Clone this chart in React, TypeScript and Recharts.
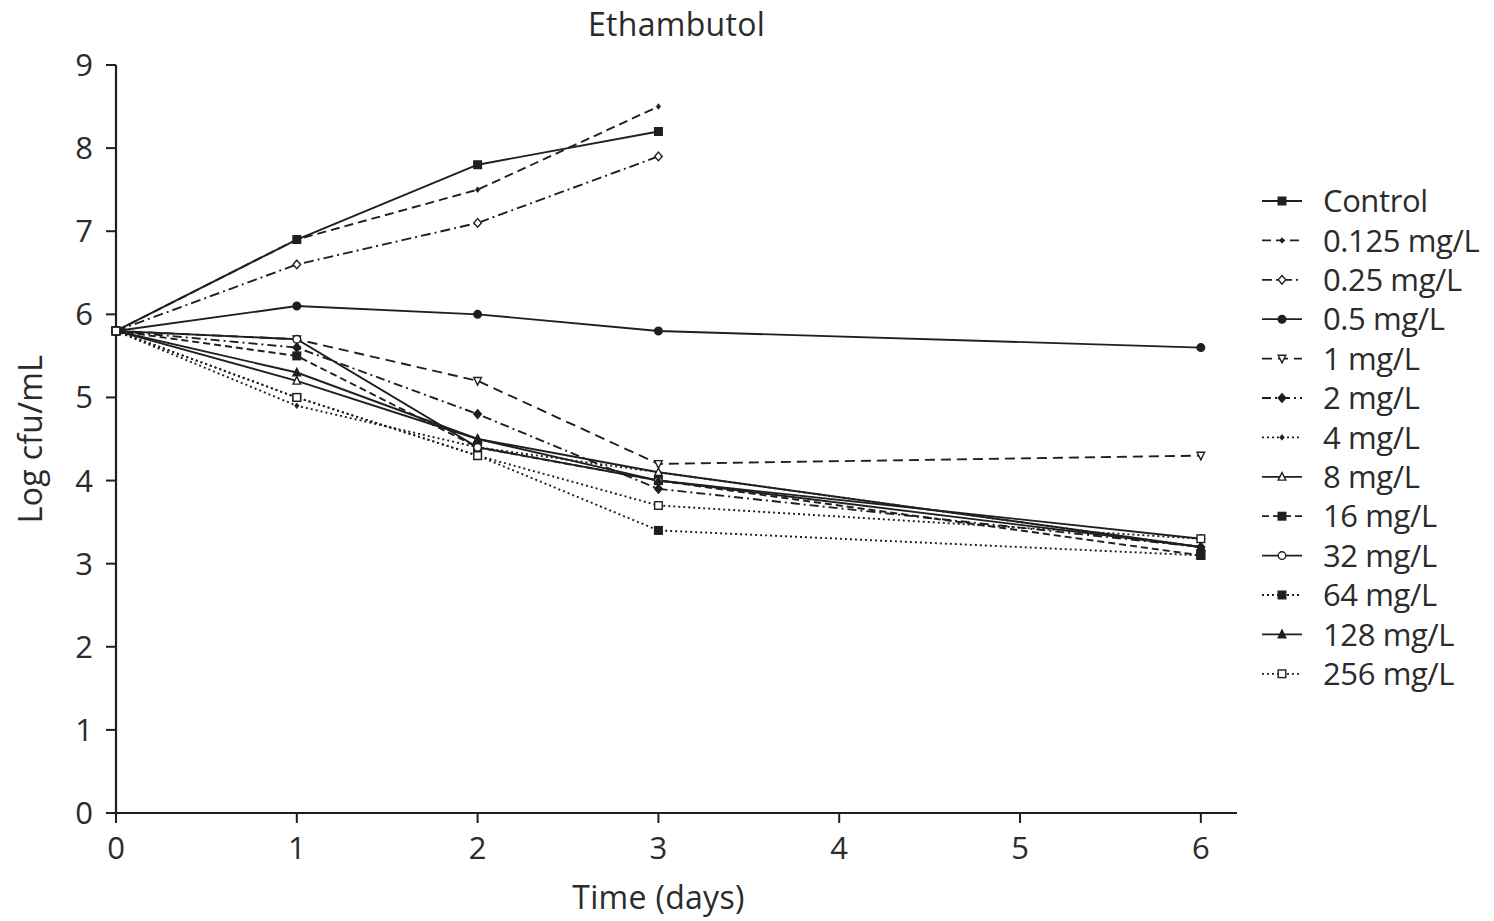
import { Label, Line, LineChart, XAxis, YAxis } from "recharts";

const DAYS = [0, 1, 2, 3, 6];
const X_TICKS = [0, 1, 2, 3, 4, 5, 6];
const Y_TICKS = [0, 1, 2, 3, 4, 5, 6, 7, 8, 9];

// log cfu/mL per concentration, one value per entry in DAYS
const control = [5.8, 6.9, 7.8, 8.2, null];
const mg0125 = [5.8, 6.9, 7.5, 8.5, null];
const mg025 = [5.8, 6.6, 7.1, 7.9, null];
const mg05 = [5.8, 6.1, 6.0, 5.8, 5.6];
const mg1 = [5.8, 5.7, 5.2, 4.2, 4.3];
const mg2 = [5.8, 5.6, 4.8, 3.9, 3.2];
const mg4 = [5.8, 4.9, 4.4, 4.1, 3.2];
const mg8 = [5.8, 5.2, 4.5, 4.1, 3.2];
const mg16 = [5.8, 5.5, 4.4, 4.0, 3.1];
const mg32 = [5.8, 5.7, 4.4, 4.0, 3.3];
const mg64 = [5.8, 5.0, 4.3, 3.4, 3.1];
const mg128 = [5.8, 5.3, 4.5, 4.0, 3.2];
const mg256 = [5.8, 5.0, 4.3, 3.7, 3.3];

const SERIES = [
  { key: "control", name: "Control", values: control },
  { key: "mg0125", name: "0.125 mg/L", values: mg0125 },
  { key: "mg025", name: "0.25 mg/L", values: mg025 },
  { key: "mg05", name: "0.5 mg/L", values: mg05 },
  { key: "mg1", name: "1 mg/L", values: mg1 },
  { key: "mg2", name: "2 mg/L", values: mg2 },
  { key: "mg4", name: "4 mg/L", values: mg4 },
  { key: "mg8", name: "8 mg/L", values: mg8 },
  { key: "mg16", name: "16 mg/L", values: mg16 },
  { key: "mg32", name: "32 mg/L", values: mg32 },
  { key: "mg64", name: "64 mg/L", values: mg64 },
  { key: "mg128", name: "128 mg/L", values: mg128 },
  { key: "mg256", name: "256 mg/L", values: mg256 },
];

type Shape = "square" | "circle" | "diamond" | "triangle" | "triangleDown" | "tiny";
type Style = { dash?: string; shape: Shape; filled: boolean };

const STYLES: Record<string, Style> = {
  control: { shape: "square", filled: true },
  mg0125: { dash: "9 5", shape: "tiny", filled: true },
  mg025: { dash: "10 4 2 4", shape: "diamond", filled: false },
  mg05: { shape: "circle", filled: true },
  mg1: { dash: "10 6", shape: "triangleDown", filled: false },
  mg2: { dash: "9 4 2 4", shape: "diamond", filled: true },
  mg4: { dash: "2 3", shape: "tiny", filled: true },
  mg8: { shape: "triangle", filled: false },
  mg16: { dash: "7 4", shape: "square", filled: true },
  mg32: { shape: "circle", filled: false },
  mg64: { dash: "2 3", shape: "square", filled: true },
  mg128: { shape: "triangle", filled: true },
  mg256: { dash: "2 3", shape: "square", filled: false },
};

const INK = "#1f1f1f";
const TEXT = "#2b2b2b";
const FONT = "'Open Sans', sans-serif";

const data = DAYS.map((day, i) => {
  const row: Record<string, number | null> = { day };
  SERIES.forEach((s) => (row[s.key] = s.values[i]));
  return row;
});

function Marker({ cx, cy, shape, filled }: { cx: number; cy: number; shape: Shape; filled: boolean }) {
  const fill = filled ? INK : "#fff";
  const common = { fill, stroke: INK, strokeWidth: 1.4 };
  const r = 3.8;
  switch (shape) {
    case "square":
      return <rect x={cx - r} y={cy - r} width={r * 2} height={r * 2} {...common} />;
    case "circle":
      return <circle cx={cx} cy={cy} r={r} {...common} />;
    case "diamond":
      return <polygon points={`${cx},${cy - r - 0.5} ${cx + r},${cy} ${cx},${cy + r + 0.5} ${cx - r},${cy}`} {...common} />;
    case "triangle":
      return <polygon points={`${cx},${cy - r - 0.5} ${cx + r},${cy + r - 0.5} ${cx - r},${cy + r - 0.5}`} {...common} />;
    case "triangleDown":
      return <polygon points={`${cx},${cy + r + 0.5} ${cx + r},${cy - r + 0.5} ${cx - r},${cy - r + 0.5}`} {...common} />;
    default:
      return <polygon points={`${cx},${cy - 2.8} ${cx + 2.2},${cy} ${cx},${cy + 2.8} ${cx - 2.2},${cy}`} fill={INK} stroke={INK} strokeWidth={0.8} />;
  }
}

function Legend() {
  const x0 = 1262;
  const top = 201;
  const step = 39.4;
  return (
    <svg width={1494} height={921} style={{ position: "absolute", left: 0, top: 0, pointerEvents: "none" }}>
      {SERIES.map((s, i) => {
        const st = STYLES[s.key];
        const y = top + i * step;
        return (
          <g key={s.key}>
            <line x1={x0} x2={x0 + 40} y1={y} y2={y} stroke={INK} strokeWidth={1.8} strokeDasharray={st.dash} />
            <Marker cx={x0 + 20} cy={y} shape={st.shape} filled={st.filled} />
            <text x={x0 + 61} y={y} dy="0.36em" fontSize={31} fill={TEXT} fontFamily={FONT} letterSpacing={-0.4}>
              {s.name}
            </text>
          </g>
        );
      })}
    </svg>
  );
}

export default function App() {
  return (
    <div style={{ position: "absolute", left: 0, top: 0, width: 1494, height: 921, background: "#fff", fontFamily: FONT }}>
      <div
        style={{
          position: "absolute",
          left: 116,
          width: 1121,
          top: 2,
          textAlign: "center",
          fontSize: 32,
          color: TEXT,
          letterSpacing: 0.3,
        }}
      >
        Ethambutol
      </div>
      <LineChart width={1494} height={921} data={data} margin={{ top: 65, right: 257, bottom: 0, left: 0 }}>
        <XAxis
          dataKey="day"
          type="number"
          domain={[0, 6.2]}
          ticks={X_TICKS}
          allowDecimals={false}
          height={108}
          tickSize={10}
          tickMargin={14}
          axisLine={{ stroke: INK, strokeWidth: 2.2 }}
          tickLine={{ stroke: INK, strokeWidth: 2 }}
          tick={{ fill: TEXT, fontSize: 31, fontFamily: FONT }}
        >
          <Label value="Time (days)" position="insideBottom" offset={12} dx={-18} fill={TEXT} fontSize={32} fontFamily={FONT} letterSpacing={0.3} />
        </XAxis>
        <YAxis
          type="number"
          domain={[0, 9]}
          ticks={Y_TICKS}
          width={116}
          tickSize={10}
          tickMargin={13}
          axisLine={{ stroke: INK, strokeWidth: 2.2 }}
          tickLine={{ stroke: INK, strokeWidth: 2 }}
          tick={{ fill: TEXT, fontSize: 31, fontFamily: FONT }}
        >
          <Label value="Log cfu/mL" angle={-90} position="center" dx={-27} fill={TEXT} fontSize={32} fontFamily={FONT} letterSpacing={0.3} />
        </YAxis>
        {SERIES.map((s) => {
          const st = STYLES[s.key];
          return (
            <Line
              key={s.key}
              dataKey={s.key}
              name={s.name}
              type="linear"
              stroke={INK}
              strokeWidth={1.9}
              strokeDasharray={st.dash}
              isAnimationActive={false}
              dot={(p: any) =>
                p.cy == null ? (
                  <g key={`${s.key}-${p.index}`} />
                ) : (
                  <Marker key={`${s.key}-${p.index}`} cx={p.cx} cy={p.cy} shape={st.shape} filled={st.filled} />
                )
              }
              activeDot={false}
            />
          );
        })}
      </LineChart>
      <Legend />
    </div>
  );
}
